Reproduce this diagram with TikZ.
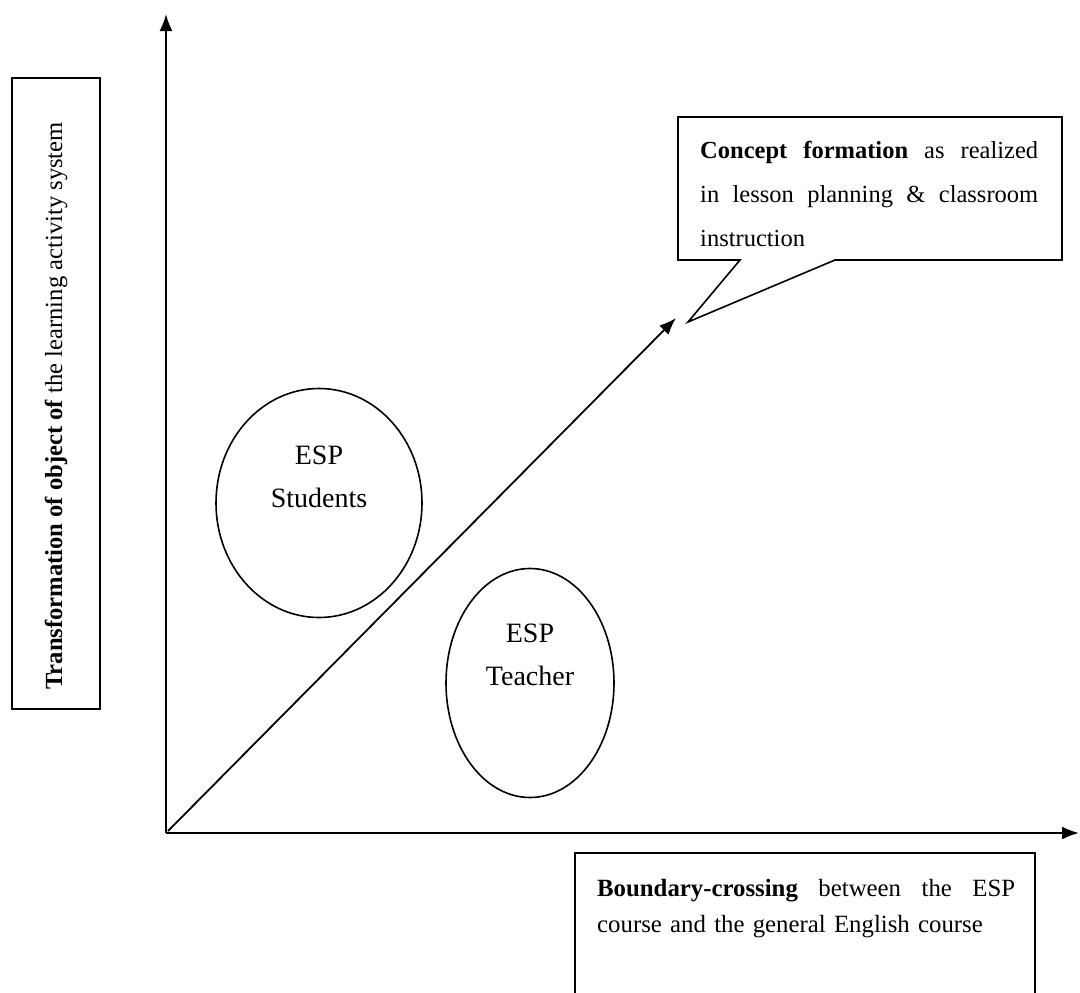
\documentclass[tikz,border=0pt]{standalone}
\usepackage{fontspec}
\setmainfont{Liberation Serif}
\usetikzlibrary{arrows.meta,shapes.geometric}

% a line of text spread over a given width, words evenly spaced
\newcommand{\spreadline}[2]{\makebox[#1]{#2}}

\begin{document}
\begin{tikzpicture}[x=1pt,y=-1pt,
  axis/.style={line width=2pt,-{Latex[length=17pt,width=13pt]}},
  frame/.style={draw,line width=1.8pt},
  actor/.style={draw,ellipse,line width=1.6pt,inner sep=0pt},
  actortext/.style={font=\fontsize{28}{43}\selectfont,align=center},
  bodytext/.style={inner sep=0pt,anchor=north west,align=left}
]
\useasboundingbox (0,0) rectangle (1080,993);

% axes
\coordinate (O) at (166,833);
\coordinate (ytip) at (166,14);
\coordinate (xtip) at (1079,833);
\coordinate (dtip) at (676,318);
\draw[axis] (O) -- (ytip);
\draw[axis] (O) -- (xtip);
\draw[axis,line width=1.8pt] ([shift={(2,-2)}]O) -- (dtip);

% vertical axis label
\draw[frame] (12,78) rectangle (100,709);
\node[rotate=90,inner sep=0pt,font=\fontsize{24.6}{28}\selectfont] (ylabel) at (56,406)
  {\textbf{Transformation of object of} the learning activity system};

% actors
\node[actor,minimum width=206pt,minimum height=229pt] (students) at (319,503) {};
\node[actortext] (studentstext) at (319,477) {ESP\\Students};
\node[actor,minimum width=168pt,minimum height=229pt] (teacher) at (530,683) {};
\node[actortext] (teachertext) at (530,655) {ESP\\Teacher};

% callout
\draw[frame,line width=1.6pt,line join=miter]
  (678,117) -- (1062,117) -- (1062,260) -- (835,260) -- (688,322)
  -- (740,260) -- (678,260) -- cycle;
\node[bodytext,text width=338pt,font=\fontsize{24.5}{44}\selectfont] (callout) at (700,141)
  {\spreadline{338pt}{\textbf{Concept}\hfill\textbf{formation}\hfill as\hfill realized}\\
   \spreadline{338pt}{in\hfill lesson\hfill planning\hfill\&\hfill classroom}\\
   instruction};

% horizontal axis label
\draw[frame] (575,995) -- (575,853) -- (1035,853) -- (1035,995);
\node[bodytext,text width=418pt,font=\fontsize{24.8}{36}\selectfont] (xlabel) at (597,879)
  {\spreadline{418pt}{\textbf{Boundary-crossing}\hfill between\hfill the\hfill ESP}\\
   course and the general English course};
\end{tikzpicture}
\end{document}
